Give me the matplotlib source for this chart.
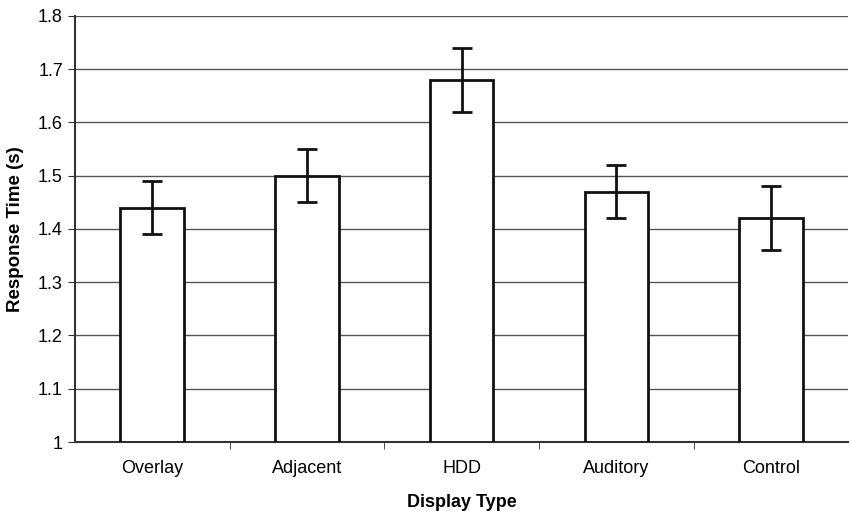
import numpy as np
import matplotlib.pyplot as plt

plt.rcParams['font.family'] = ['Liberation Sans', 'DejaVu Sans']

categories = ['Overlay', 'Adjacent', 'HDD', 'Auditory', 'Control']
means = [1.44, 1.50, 1.68, 1.47, 1.42]
err_low = [1.39, 1.45, 1.62, 1.42, 1.36]
err_high = [1.49, 1.55, 1.74, 1.52, 1.48]

means = np.array(means)
yerr = np.vstack([means - np.array(err_low), np.array(err_high) - means])
x = np.arange(len(categories))

fig = plt.figure(figsize=(8.5, 5.11), dpi=100)
ax = fig.add_axes([0.088, 0.135, 0.91, 0.834])

ax.set_ylim(1, 1.8)
ax.set_xlim(-0.5, len(categories) - 0.5)
ax.set_yticks(np.arange(1, 1.81, 0.1))
ax.set_yticklabels(['1', '1.1', '1.2', '1.3', '1.4', '1.5', '1.6', '1.7', '1.8'])
ax.yaxis.grid(True, color='#555555', linewidth=1)
ax.set_axisbelow(True)

ax.bar(x, means - 1, bottom=1, width=0.41, color='white', edgecolor='#111111',
       linewidth=2, zorder=3)
ax.errorbar(x, means, yerr=yerr, fmt='none', ecolor='#111111', elinewidth=2,
            capsize=7, capthick=2, zorder=4)

ax.set_xticks(x)
ax.set_xticklabels(categories, fontsize=13)
ax.set_xticks(np.arange(0.5, len(categories) - 0.5, 1), minor=True)
ax.tick_params(axis='x', which='major', length=0, pad=13)
ax.tick_params(axis='x', which='minor', length=5, color='#333333')
ax.tick_params(axis='y', labelsize=13, length=5, color='#333333')

for s in ['top', 'right']:
    ax.spines[s].set_visible(False)
ax.spines['left'].set_color('#333333')
ax.spines['bottom'].set_color('#333333')
ax.spines['left'].set_linewidth(1.5)
ax.spines['bottom'].set_linewidth(1.5)

ax.set_xlabel('Display Type', fontsize=13, fontweight='bold', labelpad=12)
ax.set_ylabel('Response Time (s)', fontsize=13.5, fontweight='bold', labelpad=10)

fig.savefig('out.png', dpi=100)
